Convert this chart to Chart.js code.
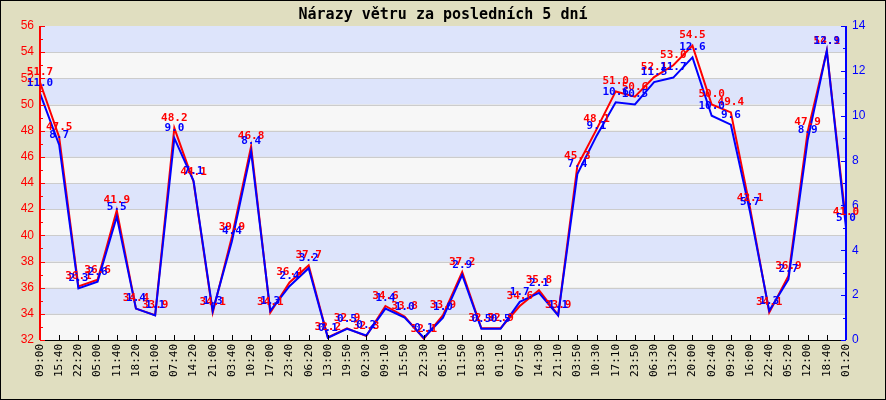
<!DOCTYPE html>
<html>
<head>
<meta charset="utf-8">
<script src="https://cdn.jsdelivr.net/npm/chart.js@4.4.0/dist/chart.umd.min.js"></script>
<style>
  html, body { margin: 0; padding: 0; background: #e0dec0; }
  #wrap { width: 886px; height: 400px; }
</style>
</head>
<body>
<div id="wrap"><canvas id="windChart" width="886" height="400"></canvas></div>
<script>
const chartTitle = 'Nárazy větru za posledních 5 dní';

const timeLabels = ['09:00', '15:40', '22:20', '05:00', '11:40', '18:20', '01:00', '07:40', '14:20', '21:00',
    '03:40', '10:20', '17:00', '23:40', '06:20', '13:00', '19:50', '02:30', '09:10', '15:50',
    '22:30', '05:10', '11:50', '18:30', '01:10', '07:50', '14:30', '21:10', '03:50', '10:30',
    '17:10', '23:50', '06:30', '13:20', '20:00', '02:40', '09:20', '16:00', '22:40', '05:20',
    '12:00', '18:40', '01:20'];

// left axis (red)
const gustRed = [51.7, 47.5, 36.1, 36.6, 41.9, 34.4, 33.9, 48.2, 44.1, 34.1,
    39.9, 46.8, 34.1, 36.4, 37.7, 32.2, 32.9, 32.3, 34.6, 33.8,
    32.1, 33.9, 37.2, 32.9, 32.9, 34.6, 35.8, 33.9, 45.3, 48.1,
    51.0, 50.6, 52.1, 53.0, 54.5, 50.0, 49.4, 42.1, 34.1, 36.9,
    47.9, 54.1, 41.0];

// right axis (blue)
const gustBlue = [11.0, 8.7, 2.3, 2.6, 5.5, 1.4, 1.1, 9.0, 7.1, 1.3,
    4.4, 8.4, 1.3, 2.4, 3.2, 0.1, 0.5, 0.2, 1.4, 1.0,
    0.1, 1.0, 2.9, 0.5, 0.5, 1.7, 2.1, 1.1, 7.4, 9.1,
    10.6, 10.5, 11.5, 11.7, 12.6, 10.0, 9.6, 5.7, 1.3, 2.7,
    8.9, 12.9, 5.0];

const leftMin = 32, leftMax = 56, leftStep = 2;
const rightMin = 0, rightMax = 14, rightStep = 2;

const RED = '#ff0000';
const BLUE = '#0000ff';
const MONO = '"DejaVu Sans Mono", monospace';

// background, bands, axes, title, value labels
const decorPlugin = {
    id: 'decor',
    beforeDraw(chart) {
        const ctx = chart.ctx;
        ctx.save();
        ctx.fillStyle = '#e0dec0';
        ctx.fillRect(0, 0, chart.width, chart.height);
        ctx.restore();
    },
    beforeDatasetsDraw(chart) {
        const { ctx, chartArea: a, scales } = chart;
        const y = scales.y;
        ctx.save();
        let band = 0;
        for (let v = leftMin; v < leftMax; v += leftStep) {
            const y0 = y.getPixelForValue(v);
            const y1 = y.getPixelForValue(v + leftStep);
            ctx.fillStyle = band % 2 === 0 ? '#f7f7f7' : '#dde4fb';
            ctx.fillRect(a.left, y1, a.right - a.left, y0 - y1);
            band++;
        }
        ctx.strokeStyle = '#cccccc';
        ctx.lineWidth = 1;
        for (let v = leftMin + leftStep; v < leftMax; v += leftStep) {
            const py = Math.round(y.getPixelForValue(v)) + 0.5;
            ctx.beginPath();
            ctx.moveTo(a.left, py);
            ctx.lineTo(a.right, py);
            ctx.stroke();
        }
        ctx.restore();
    },
    afterDatasetsDraw(chart) {
        const { ctx, chartArea: a, scales } = chart;
        const x = scales.x, y = scales.y, y1 = scales.y1;
        ctx.save();

        // x axis line + ticks pointing up
        ctx.strokeStyle = '#000000';
        ctx.lineWidth = 1;
        ctx.beginPath();
        ctx.moveTo(a.left, Math.round(a.bottom) + 0.5);
        ctx.lineTo(a.right, Math.round(a.bottom) + 0.5);
        timeLabels.forEach((_, i) => {
            const px = Math.round(x.getPixelForValue(i)) + 0.5;
            ctx.moveTo(px, a.bottom);
            ctx.lineTo(px, a.bottom - 5);
        });
        ctx.stroke();

        // left axis (red)
        ctx.strokeStyle = RED;
        ctx.beginPath();
        for (let v = leftMin; v <= leftMax; v += 1) {
            const py = Math.round(y.getPixelForValue(v)) + 0.5;
            const len = (v - leftMin) % leftStep === 0 ? 5 : 3;
            ctx.moveTo(a.left, py);
            ctx.lineTo(a.left + len, py);
        }
        ctx.stroke();
        ctx.lineWidth = 2;
        ctx.beginPath();
        ctx.moveTo(a.left, a.top);
        ctx.lineTo(a.left, a.bottom);
        ctx.stroke();

        // right axis (blue)
        ctx.strokeStyle = BLUE;
        ctx.lineWidth = 1;
        ctx.beginPath();
        for (let v = rightMin; v <= rightMax; v += 1) {
            const py = Math.round(y1.getPixelForValue(v)) + 0.5;
            const len = (v - rightMin) % rightStep === 0 ? 5 : 3;
            ctx.moveTo(a.right, py);
            ctx.lineTo(a.right - len, py);
        }
        ctx.stroke();
        ctx.lineWidth = 2;
        ctx.beginPath();
        ctx.moveTo(a.right, a.top);
        ctx.lineTo(a.right, a.bottom);
        ctx.stroke();

        // value labels above points
        ctx.font = 'bold 11px ' + MONO;
        ctx.textAlign = 'center';
        ctx.textBaseline = 'middle';
        const drawLabels = (idx, values, color) => {
            const meta = chart.getDatasetMeta(idx);
            ctx.fillStyle = color;
            meta.data.forEach((pt, i) => {
                ctx.fillText(values[i].toFixed(1), pt.x, pt.y - 10);
            });
        };
        drawLabels(0, gustRed, RED);
        drawLabels(1, gustBlue, BLUE);

        // title
        ctx.fillStyle = '#000000';
        ctx.font = 'bold 15px ' + MONO;
        ctx.fillText(chartTitle, chart.width / 2, 15);

        // frame
        ctx.strokeStyle = '#000000';
        ctx.lineWidth = 1;
        ctx.strokeRect(0.5, 0.5, chart.width - 1, chart.height - 1);
        ctx.restore();
    }
};

const ctx = document.getElementById('windChart').getContext('2d');
const windChart = new Chart(ctx, {
    type: 'line',
    data: {
        labels: timeLabels,
        datasets: [
            {
                label: 'red',
                data: gustRed,
                yAxisID: 'y',
                borderColor: RED,
                borderWidth: 2,
                pointRadius: 0,
                tension: 0,
                order: 2
            },
            {
                label: 'blue',
                data: gustBlue,
                yAxisID: 'y1',
                borderColor: BLUE,
                borderWidth: 2,
                pointRadius: 0,
                tension: 0,
                order: 1
            }
        ]
    },
    options: {
        responsive: false,
        animation: false,
        layout: { padding: { top: 26, left: 0, right: 0, bottom: 0 } },
        plugins: {
            legend: { display: false },
            tooltip: { enabled: false },
            title: { display: false }
        },
        scales: {
            x: {
                type: 'category',
                offset: false,
                grid: { display: false, drawTicks: false },
                border: { display: false },
                ticks: {
                    autoSkip: false,
                    maxRotation: 90,
                    minRotation: 90,
                    padding: 4,
                    color: '#000000',
                    font: { family: MONO, size: 11 }
                },
                afterFit(scale) { scale.height = 60; }
            },
            y: {
                position: 'left',
                min: leftMin,
                max: leftMax,
                grid: { display: false, drawTicks: false },
                border: { display: false },
                ticks: {
                    stepSize: leftStep,
                    padding: 6,
                    color: RED,
                    font: { family: '"Liberation Sans", Arial, sans-serif', size: 12 }
                },
                afterFit(scale) { scale.width = 40; }
            },
            y1: {
                position: 'right',
                min: rightMin,
                max: rightMax,
                grid: { display: false, drawTicks: false },
                border: { display: false },
                ticks: {
                    stepSize: rightStep,
                    padding: 6,
                    color: BLUE,
                    font: { family: '"Liberation Sans", Arial, sans-serif', size: 12 }
                },
                afterFit(scale) { scale.width = 40; }
            }
        }
    },
    plugins: [decorPlugin]
});
</script>
</body>
</html>
